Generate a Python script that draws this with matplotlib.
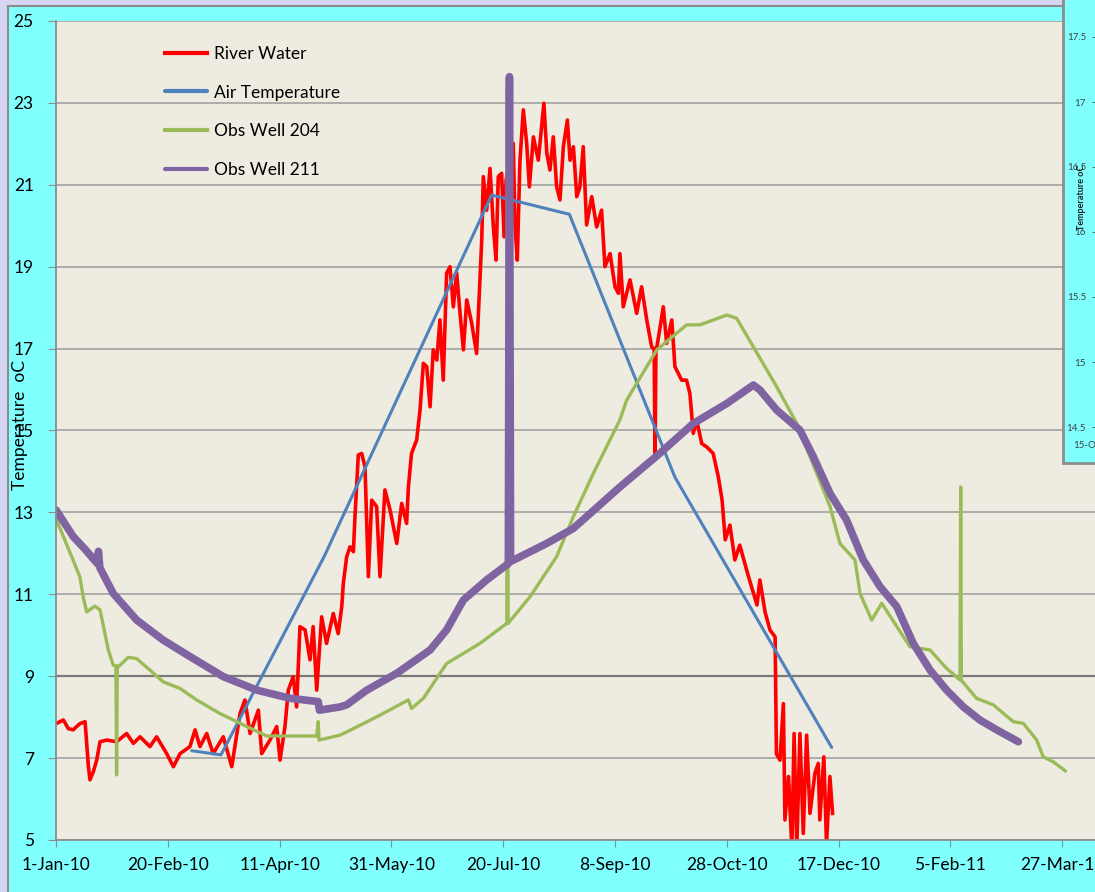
import matplotlib
matplotlib.use("Agg")
import matplotlib.pyplot as plt
from matplotlib.patches import Rectangle
import numpy as np
import pandas as pd

plt.rcParams['font.family'] = ['Lato', 'DejaVu Sans']

# days after 1-Jan-2010, temperature (oC)
river_day = [0, 3.3, 5.5, 7.7, 9.2, 10.7, 13, 13.7, 14.5, 15.2, 16.7, 18.2, 19.7, 22.7, 27.1, 31.6,
             34.6, 37.6, 42, 45, 49.5, 52.5, 55.5, 59.9, 62.2, 64.4, 67.4, 70.3, 74.8, 78.6, 82.3,
             84.5, 86.8, 90.5, 92, 95.7, 98.7, 100.2, 102.4, 103.9, 106.1, 107.6, 109.1, 111.4,
             113.6, 115, 116.6, 118.8, 121, 124, 126.2, 127.8, 128.5, 130, 131.5, 133, 133.7,
             135.2, 136.7, 138.2, 139.7, 141.2, 143.4, 144.9, 147.1, 149.4, 152.4, 154.6, 156.8,
             157.6, 159, 161.3, 162.8, 164.3, 165.8, 167.3, 168.7, 170.3, 171.7, 173.2, 174.7,
             176.2, 177.7, 179.2, 180.7, 182.2, 183.7, 185.9, 188.1, 189.6, 190.4, 191.1, 192.6,
             194.1, 195.6, 196.8, 197.8, 199.3, 200.4, 201.3, 204.5, 205.3, 206.3, 207.5, 209,
             210.5, 211.7, 213.5, 215.7, 217.2, 218.2, 219.5, 220.9, 222.4, 223.9, 225.4, 226.9,
             228.7, 229.9, 231.4, 232.9, 234.3, 235.8, 237.3, 239.6, 241.8, 244, 245.5, 247.8,
             250, 251.5, 252.2, 253.7, 256.7, 259.7, 261.9, 264.2, 266.4, 267.5, 267.9, 268.3,
             270.2, 271.6, 273.1, 275.4, 276.8, 279.8, 282, 283.5, 285, 286.5, 288.8, 291, 293.9,
             296.2, 297.9, 299.3, 301.4, 303.6, 305.8, 309.5, 313.5, 314.8, 317.1, 319.3, 321.6,
             322.2, 323.8, 325.3, 326, 327.6, 329.1, 330.1, 331.3, 332.7, 334.2, 335.7, 337.2,
             339.4, 340.9, 341.6, 343.4, 344.6, 346.1, 347.3]
river_temp = [7.84, 7.93, 7.72, 7.69, 7.77, 7.84, 7.89, 7.36, 6.79, 6.47, 6.67, 6.95, 7.40, 7.44,
              7.40, 7.60, 7.36, 7.52, 7.28, 7.52, 7.11, 6.79, 7.11, 7.28, 7.69, 7.28, 7.60, 7.11,
              7.52, 6.79, 8.09, 8.42, 7.60, 8.17, 7.11, 7.44, 7.77, 6.95, 7.77, 8.66, 8.99, 8.25,
              10.21, 10.13, 9.40, 10.21, 8.66, 10.45, 9.80, 10.53, 10.04, 10.70, 11.27, 11.92,
              12.16, 12.04, 12.89, 14.40, 14.44, 14.11, 11.43, 13.30, 13.14, 11.43, 13.55, 13.06,
              12.24, 13.22, 12.73, 13.62, 14.44, 14.77, 15.50, 16.64, 16.56, 15.58, 16.97, 16.72,
              17.70, 16.23, 18.84, 19.0, 18.02, 18.84, 17.86, 16.97, 18.19, 17.62, 16.88, 18.68,
              19.65, 21.20, 20.38, 21.40, 19.97, 19.16, 21.20, 21.28, 19.73, 21.12, 22.01, 19.97,
              19.16, 21.60, 22.83, 22.01, 20.95, 22.17, 21.60, 22.42, 22.99, 21.77, 21.36, 22.17,
              20.95, 20.63, 21.93, 22.58, 21.60, 21.93, 20.71, 20.95, 21.93, 20.02, 20.71, 19.97,
              20.38, 19.0, 19.32, 18.51, 18.35, 19.32, 18.02, 18.68, 17.86, 18.51, 17.70, 17.04,
              17.0, 14.28, 16.9, 17.53, 18.02, 17.13, 17.70, 16.56, 16.23, 16.23, 15.90, 14.93,
              15.26, 14.68, 14.60, 14.44, 13.87, 13.30, 12.33, 12.69, 11.84, 12.20, 11.47, 10.74,
              11.35, 10.57, 10.13, 9.96, 7.1, 6.95, 8.33, 5.49, 6.55, 4.8, 7.6, 4.8, 7.6, 5.16,
              7.56, 5.65, 6.63, 6.87, 5.49, 7.03, 4.9, 6.55, 5.65]

air_day = [60.7, 73.8, 120, 194.8, 229.6, 276.8, 346.9]
air_temp = [7.18, 7.08, 11.93, 20.75, 20.28, 13.86, 7.26]

well204_day = [0.3, 7.6, 10.7, 12.2, 13.7, 17.4, 19.7, 23.4, 25.6, 26.8, 27.1, 27.4, 27.9, 32.3,
               36.1, 42.0, 48, 55.5, 62.9, 73.3, 82.3, 94.2, 116.6, 117.3, 117.6, 127, 133, 144.9,
               157.6, 159, 164.3, 174.7, 189.6, 201.6, 201.9, 202.2, 212, 223.9, 231.4, 240.3,
               252.2, 255.2, 268.7, 282, 288, 300, 304.4, 311.9, 322.3, 331.3, 346.2, 350.6, 357.3,
               359.6, 364.8, 369.3, 381.9, 390.9, 398.3, 404.3, 404.6, 404.9, 411.7, 419.2, 428.1,
               432.6, 438.6, 441.5, 446, 451.3]
well204_temp = [12.81, 11.84, 11.42, 10.93, 10.57, 10.71, 10.62, 9.64, 9.27, 9.25, 6.59, 9.25, 9.23,
                9.46, 9.43, 9.15, 8.86, 8.70, 8.42, 8.09, 7.85, 7.54, 7.54, 7.89, 7.44, 7.56, 7.72,
                8.05, 8.42, 8.21, 8.46, 9.31, 9.80, 10.29, 23.36, 10.29, 10.94, 11.92, 12.9, 13.95,
                15.26, 15.74, 16.97, 17.58, 17.58, 17.82, 17.74, 17.04, 16.07, 15.17, 13.14, 12.24,
                11.84, 11.02, 10.37, 10.78, 9.72, 9.64, 9.19, 8.91, 13.62, 8.9, 8.46, 8.30, 7.89,
                7.85, 7.44, 7.03, 6.91, 6.69]

well211_day = [0, 7.7, 13, 18.5, 19.0, 19.6, 25.6, 36.1, 48, 59.9, 74.8, 89.8, 104.7, 117.3, 117.8,
               127, 130, 139, 152.4, 167.3, 174.7, 182.2, 192.6, 202.3, 202.8, 203.3, 219.4, 231.4,
               252.2, 270, 285, 300, 311.9, 314.8, 322.3, 332.7, 338.7, 346.2, 353.6, 361, 368.5,
               376, 383.4, 390.9, 398.3, 405.8, 413.2, 420.7, 430.4]
well211_temp = [13.06, 12.41, 12.10, 11.75, 12.05, 11.65, 11.02, 10.37, 9.88, 9.48, 8.99, 8.66, 8.46,
                8.38, 8.17, 8.25, 8.30, 8.66, 9.07, 9.64, 10.13, 10.86, 11.35, 11.75, 23.64, 11.8,
                12.24, 12.61, 13.62, 14.44, 15.17, 15.66, 16.11, 15.99, 15.50, 15.01, 14.36, 13.46,
                12.81, 11.84, 11.19, 10.70, 9.80, 9.15, 8.66, 8.25, 7.93, 7.69, 7.40]

start = pd.Timestamp('2010-01-01')
def to_dates(days):
    return start + pd.to_timedelta(np.array(days), unit='D')

tick_dates = pd.date_range('2010-01-01', periods=10, freq='50D')
tick_labels = [f"{t.day}-{t:%b-%y}" for t in tick_dates]
y_ticks = list(range(5, 26, 2))

# ticks of the second chart window at the right edge
side_labels = ['17.5', '17', '16.5', '16', '15.5', '15', '14.5']
side_ypix = [38, 103, 168, 233, 298, 363, 428]

W, H = 1095, 892
fig = plt.figure(figsize=(W / 100, H / 100), dpi=100, facecolor='#d6d6f2')

# chart area (cyan) with grey border
fig.patches.append(Rectangle((8 / W, -0.1), 1.2, (H - 6) / H + 0.1, transform=fig.transFigure,
                             facecolor='#80ffff', edgecolor='#8c8c8c', lw=1.5, zorder=-1))

ax = fig.add_axes([56 / W, (H - 840) / H, (W - 56) / W, (840 - 21) / H])
ax.set_facecolor('#eeece1')

ax.plot(to_dates(river_day), river_temp, color='#ff0000', lw=2.6, label='River Water',
        solid_joinstyle='round')
ax.plot(to_dates(air_day), air_temp, color='#4f81bd', lw=2.2, label='Air Temperature',
        solid_capstyle='round')
ax.plot(to_dates(well204_day), well204_temp, color='#9bbb59', lw=2.4, label='Obs Well 204',
        solid_joinstyle='round')
ax.plot(to_dates(well211_day), well211_temp, color='#8064a2', lw=5.5, label='Obs Well 211',
        solid_joinstyle='round', solid_capstyle='round')

ax.set_ylim(5, 25)
ax.set_xlim(start, start + pd.Timedelta(days=(W - 56) / 2.236))
ax.set_yticks(y_ticks)
ax.set_xticks(tick_dates)
ax.set_xticklabels(tick_labels)
ax.tick_params(axis='y', length=6, color='#8c8c8c', pad=10, labelsize=12.5)
ax.tick_params(axis='x', length=5, color='#8c8c8c', pad=7, labelsize=12.5)
ax.yaxis.grid(True, color='#a8a8a8', lw=1.3)
ax.set_axisbelow(True)
for t, gl in zip(y_ticks, ax.get_ygridlines()):
    if t == 9:
        gl.set_color('#7a7a7a')
        gl.set_linewidth(1.6)
for s in ['top', 'right']:
    ax.spines[s].set_visible(False)
for s in ['left', 'bottom']:
    ax.spines[s].set_color('#8c8c8c')
    ax.spines[s].set_linewidth(1.3)

leg = ax.legend(loc='upper left', bbox_to_anchor=(165 / W, 1 - 46 / H),
                bbox_transform=fig.transFigure, frameon=False, fontsize=12.5,
                handlelength=2.4, handletextpad=0.4, labelspacing=1.3, borderpad=0,
                borderaxespad=0)
for line in leg.get_lines():
    line.set_linewidth(3)

fig.text(20 / W, 1 - 425 / H, 'Temperature  oC', rotation=90, ha='center', va='center',
         fontsize=12.5)

# part of a second chart window lying over the right edge
fig.patches.append(Rectangle((1063 / W, (H - 463) / H), 0.1, 463 / H + 0.01,
                             transform=fig.transFigure, facecolor='#80ffff',
                             edgecolor='#8c8c8c', lw=2, zorder=5))
for lab, yp in zip(side_labels, side_ypix):
    fig.text(1086 / W, 1 - yp / H, lab, ha='right', va='center', fontsize=7,
             color='#404040', zorder=6)
    fig.text(1091 / W, 1 - yp / H, '-', ha='left', va='center', fontsize=7,
             color='#404040', zorder=6)
fig.text(1073 / W, 1 - 446 / H, '15-O', ha='left', va='center', fontsize=7, color='#404040',
         zorder=6)
fig.text(1081 / W, 1 - 197 / H, 'Temperature oC', rotation=90, ha='center', va='center',
         fontsize=6.5, fontweight='bold', color='#202020', zorder=6)

fig.savefig('out.png', dpi=100, facecolor=fig.get_facecolor())
